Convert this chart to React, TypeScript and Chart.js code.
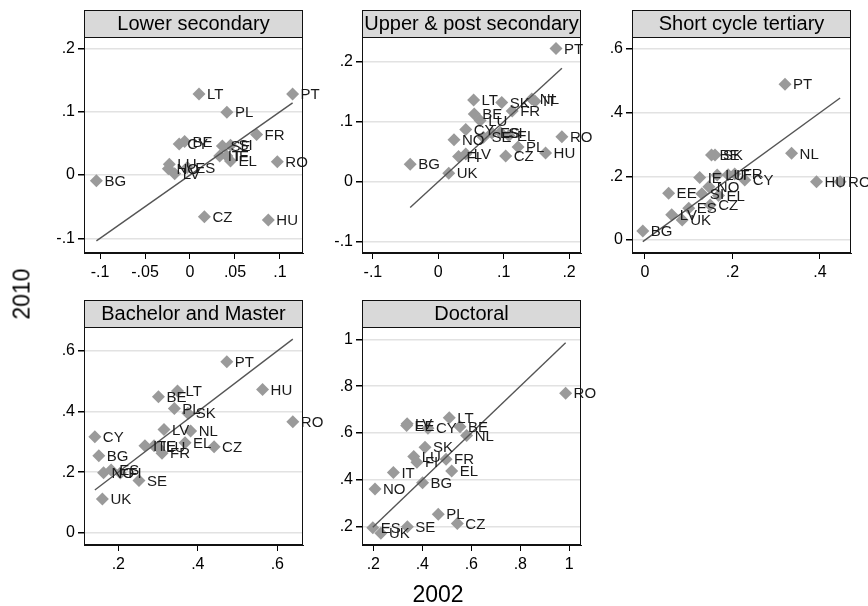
import React, { useEffect, useRef } from "react";
import { Chart, registerables } from "chart.js";

Chart.register(...registerables);

// ---------------- DATA ----------------
// Panel 1: Lower secondary
const lowerSecCountries = ["BG", "LT", "PT", "PL", "FR", "RO", "HU", "CZ", "CY", "BE", "SE", "SI", "IT", "IE", "EL", "LU", "NO", "LV", "ES"];
const lowerSec2002 = [-0.104, 0.010, 0.114, 0.041, 0.074, 0.097, 0.087, 0.016, -0.012, -0.006, 0.036, 0.045, 0.033, 0.041, 0.045, -0.023, -0.024, -0.017, -0.003];
const lowerSec2010 = [-0.009, 0.128, 0.128, 0.099, 0.064, 0.021, -0.071, -0.066, 0.049, 0.053, 0.046, 0.047, 0.030, 0.030, 0.022, 0.017, 0.010, 0.002, 0.012];

// Panel 2: Upper & post secondary
const upperSecCountries = ["PT", "BG", "UK", "LT", "SK", "NL", "IT", "FR", "BE", "LU", "CY", "NO", "SE", "ES", "SI", "EL", "PL", "HU", "RO", "CZ", "FI", "LV"];
const upperSec2002 = [0.180, -0.043, 0.016, 0.054, 0.097, 0.143, 0.148, 0.113, 0.055, 0.064, 0.042, 0.024, 0.069, 0.082, 0.095, 0.108, 0.122, 0.164, 0.189, 0.103, 0.031, 0.042];
const upperSec2010 = [0.222, 0.029, 0.014, 0.136, 0.132, 0.138, 0.134, 0.118, 0.113, 0.102, 0.087, 0.070, 0.074, 0.081, 0.082, 0.077, 0.058, 0.048, 0.075, 0.043, 0.042, 0.046];

// Panel 3: Short cycle tertiary
const shortCycCountries = ["PT", "NL", "HU", "RO", "BG", "BE", "SK", "IE", "LU", "IT", "FR", "CY", "NO", "EE", "SI", "EL", "ES", "CZ", "UK", "LV"];
const shortCyc2002 = [0.320, 0.335, 0.392, 0.446, -0.005, 0.152, 0.160, 0.125, 0.165, 0.190, 0.205, 0.228, 0.146, 0.054, 0.130, 0.168, 0.100, 0.149, 0.085, 0.061];
const shortCyc2010 = [0.489, 0.272, 0.183, 0.183, 0.028, 0.267, 0.267, 0.196, 0.204, 0.205, 0.207, 0.188, 0.167, 0.147, 0.145, 0.140, 0.100, 0.110, 0.063, 0.079];

// Panel 4: Bachelor and Master
const bachMasCountries = ["PT", "HU", "RO", "CY", "BG", "UK", "BE", "LT", "PL", "SK", "LV", "NL", "EL", "CZ", "SE", "IT", "IE", "LU", "FR", "NO", "ES", "FI"];
const bachMas2002 = [0.473, 0.563, 0.639, 0.141, 0.151, 0.160, 0.301, 0.349, 0.341, 0.375, 0.315, 0.382, 0.368, 0.441, 0.252, 0.267, 0.290, 0.300, 0.310, 0.163, 0.182, 0.205];
const bachMas2010 = [0.564, 0.473, 0.366, 0.317, 0.254, 0.111, 0.449, 0.468, 0.410, 0.394, 0.341, 0.336, 0.297, 0.284, 0.172, 0.287, 0.287, 0.282, 0.262, 0.198, 0.207, 0.197];

// Panel 5: Doctoral
const doctoralCountries = ["RO", "LT", "BE", "NL", "LV", "EE", "CY", "SK", "LU", "FI", "FR", "EL", "IT", "BG", "NO", "PL", "CZ", "SE", "ES", "UK"];
const doctoral2002 = [0.985, 0.510, 0.554, 0.581, 0.338, 0.336, 0.423, 0.411, 0.365, 0.378, 0.497, 0.520, 0.282, 0.401, 0.207, 0.465, 0.543, 0.339, 0.198, 0.231];
const doctoral2010 = [0.770, 0.665, 0.627, 0.589, 0.640, 0.632, 0.620, 0.539, 0.500, 0.475, 0.488, 0.438, 0.431, 0.388, 0.361, 0.253, 0.214, 0.200, 0.196, 0.172];

// Tick values and labels
const lowerSecXTicks = [-0.1, -0.05, 0, 0.05, 0.1];
const lowerSecXLabels = ["-.1", "-.05", "0", ".05", ".1"];
const lowerSecYTicks = [-0.1, 0, 0.1, 0.2];
const lowerSecYLabels = ["-.1", "0", ".1", ".2"];

const upperSecXTicks = [-0.1, 0, 0.1, 0.2];
const upperSecXLabels = ["-.1", "0", ".1", ".2"];
const upperSecYTicks = [-0.1, 0, 0.1, 0.2];
const upperSecYLabels = ["-.1", "0", ".1", ".2"];

const shortCycXTicks = [0, 0.2, 0.4];
const shortCycXLabels = ["0", ".2", ".4"];
const shortCycYTicks = [0, 0.2, 0.4, 0.6];
const shortCycYLabels = ["0", ".2", ".4", ".6"];

const bachMasXTicks = [0.2, 0.4, 0.6];
const bachMasXLabels = [".2", ".4", ".6"];
const bachMasYTicks = [0, 0.2, 0.4, 0.6];
const bachMasYLabels = ["0", ".2", ".4", ".6"];

const doctoralXTicks = [0.2, 0.4, 0.6, 0.8, 1];
const doctoralXLabels = [".2", ".4", ".6", ".8", "1"];
const doctoralYTicks = [0.2, 0.4, 0.6, 0.8, 1];
const doctoralYLabels = [".2", ".4", ".6", ".8", "1"];

const panelTitles = ["Lower secondary", "Upper & post secondary", "Short cycle tertiary", "Bachelor and Master", "Doctoral"];
const xAxisTitle = "2002";
const yAxisTitle = "2010";

// ---------------- LAYOUT ----------------
const FONT = "'Liberation Sans', Arial, Helvetica, sans-serif";
const Y_AXIS_W = 55;
const X_AXIS_H = 40;
const PAD_TOP = 30;
const PAD_RIGHT = 40;
const HEADER_H = 27;

type Panel = {
  title: string;
  countries: string[];
  xs: number[];
  ys: number[];
  xTicks: number[];
  xLabels: string[];
  yTicks: number[];
  yLabels: string[];
  left: number;
  top: number;
  w: number;
  h: number;
  xMin: number;
  xMax: number;
  yMin: number;
  yMax: number;
};

const panels: Panel[] = [
  {
    title: panelTitles[0], countries: lowerSecCountries, xs: lowerSec2002, ys: lowerSec2010,
    xTicks: lowerSecXTicks, xLabels: lowerSecXLabels, yTicks: lowerSecYTicks, yLabels: lowerSecYLabels,
    left: 84, top: 37, w: 219, h: 216, xMin: -0.11778, xMax: 0.12556, yMin: -0.1232, yMax: 0.218,
  },
  {
    title: panelTitles[1], countries: upperSecCountries, xs: upperSec2002, ys: upperSec2010,
    xTicks: upperSecXTicks, xLabels: upperSecXLabels, yTicks: upperSecYTicks, yLabels: upperSecYLabels,
    left: 362, top: 37, w: 219, h: 216, xMin: -0.11667, xMax: 0.2182, yMin: -0.11883, yMax: 0.24117,
  },
  {
    title: panelTitles[2], countries: shortCycCountries, xs: shortCyc2002, ys: shortCyc2010,
    xTicks: shortCycXTicks, xLabels: shortCycXLabels, yTicks: shortCycYTicks, yLabels: shortCycYLabels,
    left: 632, top: 37, w: 219, h: 216, xMin: -0.02971, xMax: 0.47086, yMin: -0.04082, yMax: 0.63736,
  },
  {
    title: panelTitles[3], countries: bachMasCountries, xs: bachMas2002, ys: bachMas2010,
    xTicks: bachMasXTicks, xLabels: bachMasXLabels, yTicks: bachMasYTicks, yLabels: bachMasYLabels,
    left: 84, top: 327, w: 219, h: 218, xMin: 0.11371, xMax: 0.66466, yMin: -0.04059, yMax: 0.67888,
  },
  {
    title: panelTitles[4], countries: doctoralCountries, xs: doctoral2002, ys: doctoral2010,
    xTicks: doctoralXTicks, xLabels: doctoralXLabels, yTicks: doctoralYTicks, yLabels: doctoralYLabels,
    left: 362, top: 327, w: 219, h: 218, xMin: 0.15388, xMax: 1.04776, yMin: 0.12188, yMax: 1.05251,
  },
];

function makeChart(canvas: HTMLCanvasElement, p: Panel) {
  const pts = p.xs.map((x, i) => ({ x, y: p.ys[i] }));
  const lo = Math.min(...p.xs);
  const hi = Math.max(...p.xs);

  const panelPlugin = {
    id: "panelDecor",
    afterDatasetsDraw(chart: any) {
      const ctx = chart.ctx;
      const meta = chart.getDatasetMeta(1);
      ctx.save();
      ctx.fillStyle = "#1a1a1a";
      ctx.font = `15px ${FONT}`;
      ctx.textAlign = "left";
      ctx.textBaseline = "middle";
      meta.data.forEach((el: any, i: number) => {
        ctx.fillText(p.countries[i], el.x + 8, el.y + 1);
      });
      ctx.restore();
    },
    afterDraw(chart: any) {
      const ctx = chart.ctx;
      const { left, top, right, bottom } = chart.chartArea;
      ctx.save();
      // header strip
      ctx.fillStyle = "#d9d9d9";
      ctx.fillRect(left, top - HEADER_H, right - left, HEADER_H);
      ctx.strokeStyle = "#111";
      ctx.lineWidth = 1;
      ctx.strokeRect(left + 0.5, top - HEADER_H + 0.5, right - left - 1, HEADER_H);
      ctx.fillStyle = "#000";
      ctx.font = `20px ${FONT}`;
      ctx.textAlign = "center";
      ctx.textBaseline = "middle";
      ctx.fillText(p.title, (left + right) / 2, top - HEADER_H / 2 + 1);
      // frame
      ctx.strokeRect(left + 0.5, top + 0.5, right - left - 1, bottom - top - 1);
      ctx.restore();
    },
  };

  return new Chart(canvas, {
    type: "scatter",
    data: {
      datasets: [
        {
          type: "line",
          data: [
            { x: lo, y: lo },
            { x: hi, y: hi },
          ],
          borderColor: "#555555",
          borderWidth: 1.4,
          pointRadius: 0,
          fill: false,
        } as any,
        {
          type: "scatter",
          data: pts,
          pointStyle: "rectRot",
          pointRadius: 6.5,
          backgroundColor: "#9a9a9a",
          borderColor: "#9a9a9a",
          borderWidth: 0,
        } as any,
      ],
    },
    options: {
      responsive: false,
      animation: false,
      devicePixelRatio: 1,
      layout: { padding: { top: PAD_TOP, right: PAD_RIGHT, left: 0, bottom: 0 } },
      plugins: { legend: { display: false }, tooltip: { enabled: false }, title: { display: false } },
      scales: {
        x: {
          type: "linear",
          min: p.xMin,
          max: p.xMax,
          afterFit: (s: any) => {
            s.height = X_AXIS_H;
          },
          afterBuildTicks: (s: any) => {
            s.ticks = p.xTicks.map((v) => ({ value: v }));
          },
          ticks: {
            autoSkip: false,
            maxRotation: 0,
            padding: 4,
            color: "#000",
            font: { family: FONT, size: 16 },
            callback: (_v: any, i: number) => p.xLabels[i],
          },
          grid: { drawOnChartArea: false, drawTicks: true, tickLength: 6, color: "#000", tickColor: "#000" },
          border: { display: true, color: "#111", width: 1 },
        },
        y: {
          type: "linear",
          min: p.yMin,
          max: p.yMax,
          afterFit: (s: any) => {
            s.width = Y_AXIS_W;
          },
          afterBuildTicks: (s: any) => {
            s.ticks = p.yTicks.map((v) => ({ value: v }));
          },
          ticks: {
            autoSkip: false,
            padding: 3,
            color: "#000",
            font: { family: FONT, size: 16 },
            callback: (_v: any, i: number) => p.yLabels[i],
          },
          grid: { drawOnChartArea: true, drawTicks: true, tickLength: 6, color: "#e2e2e2", lineWidth: 1.5, tickColor: "#000" },
          border: { display: true, color: "#111", width: 1 },
        },
      },
    } as any,
    plugins: [panelPlugin],
  });
}

function PanelChart({ p }: { p: Panel }) {
  const ref = useRef<HTMLCanvasElement | null>(null);
  const W = Y_AXIS_W + p.w + PAD_RIGHT;
  const H = PAD_TOP + p.h + X_AXIS_H;
  useEffect(() => {
    if (!ref.current) return;
    const c = makeChart(ref.current, p);
    return () => c.destroy();
  }, [p]);
  return (
    <canvas
      ref={ref}
      width={W}
      height={H}
      style={{ position: "absolute", left: p.left - Y_AXIS_W, top: p.top - PAD_TOP, width: W, height: H }}
    />
  );
}

export default function App() {
  return (
    <div style={{ position: "absolute", left: 0, top: 0, width: 868, height: 606, background: "#fff", overflow: "hidden" }}>
      {panels.map((p, i) => (
        <PanelChart key={i} p={p} />
      ))}
      <div
        style={{
          position: "absolute",
          left: 22,
          top: 294,
          transform: "translate(-50%, -50%) rotate(-90deg)",
          fontFamily: FONT,
          fontSize: 23,
          color: "#000",
          whiteSpace: "nowrap",
          lineHeight: 1,
        }}
      >
        {yAxisTitle}
      </div>
      <div
        style={{
          position: "absolute",
          left: 438,
          top: 594,
          transform: "translate(-50%, -50%)",
          fontFamily: FONT,
          fontSize: 23,
          color: "#000",
          whiteSpace: "nowrap",
          lineHeight: 1,
        }}
      >
        {xAxisTitle}
      </div>
    </div>
  );
}
